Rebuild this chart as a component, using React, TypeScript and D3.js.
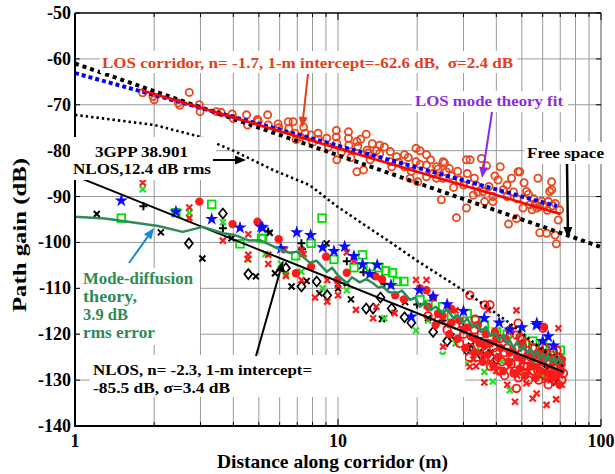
import React from "react";
import * as d3 from "d3";

const W = 615;
const H = 474;
const plot = { left: 75, right: 601, top: 13, bottom: 426 };

// [distance (m), path gain (dB)]
const losCircles: [number, number][] = [
  [1.81, -67.4], [1.98, -68.2], [2.0, -68.9], [2.47, -69.6], [2.5, -70.1], [2.72, -67.3], [2.97, -70.0], [2.99, -71.5],
  [3.45, -71.5], [3.6, -71.7], [3.96, -72.0], [4.0, -73.0], [4.49, -72.2], [4.53, -74.4], [4.94, -73.2], [4.97, -73.6],
  [5.4, -72.2], [5.43, -74.4], [5.92, -74.2], [5.95, -75.0], [6.47, -73.7], [6.5, -75.2], [6.75, -73.7], [6.86, -76.2],
  [6.93, -77.6], [7.2, -77.0], [7.4, -74.9], [7.5, -76.2], [7.9, -76.6], [8.0, -78.2], [8.4, -76.2], [8.4, -77.5],
  [9.05, -77.3], [9.2, -79.2], [9.86, -75.6], [9.85, -77.0], [9.9, -78.4], [9.9, -82.0], [10.3, -80.3], [10.96, -75.9],
  [10.96, -77.3], [11.0, -78.8], [11.2, -81.5], [11.8, -78.0], [11.9, -79.1], [11.8, -84.6], [12.2, -77.5], [12.5, -84.2],
  [12.8, -76.4], [12.9, -79.9], [13.0, -80.5], [13.25, -82.0], [13.5, -78.5], [14.0, -80.0], [14.4, -78.8], [14.4, -80.6],
  [15.0, -79.2], [15.8, -80.2], [15.8, -82.4], [16.0, -83.5], [16.7, -81.3], [17.0, -82.5], [17.9, -80.9], [17.9, -83.5],
  [18.5, -81.5], [18.8, -86.0], [19.0, -84.5], [19.8, -79.5], [19.8, -82.4], [20.1, -86.8], [20.5, -80.0], [20.5, -83.0],
  [21.7, -80.9], [21.7, -83.1], [21.7, -85.7], [22.5, -82.0], [23.0, -85.0], [23.7, -83.5], [23.7, -86.0], [24.0, -84.0],
  [24.7, -90.7], [25.1, -82.4], [25.1, -86.0], [25.4, -82.7], [25.8, -84.6], [26.5, -83.9], [27.0, -85.5], [27.5, -88.0],
  [28.2, -94.6], [28.5, -84.5], [29.0, -86.4], [30.0, -87.5], [30.8, -82.0], [30.8, -92.5], [31.0, -85.0], [31.8, -82.0],
  [32.7, -89.7], [33.0, -86.0], [33.5, -87.5], [34.0, -89.0], [35.1, -81.7], [35.6, -88.9], [36.1, -91.1], [36.7, -83.3],
  [37.5, -87.8], [38.8, -90.0], [38.8, -91.1], [39.5, -85.5], [40.6, -86.4], [41.4, -83.5], [42.5, -88.5], [43.9, -87.5],
  [44.0, -90.0], [44.5, -96.0], [45.7, -86.0], [46.5, -89.0], [47.7, -94.8], [48.0, -90.5], [48.4, -84.6], [49.1, -84.6],
  [50.5, -92.5], [51.0, -87.0], [52.1, -88.9], [53.0, -89.5], [53.6, -91.8], [54.7, -92.9], [55.5, -90.5], [56.2, -91.5],
  [57.0, -92.5], [57.6, -86.0], [58.5, -92.2], [58.5, -97.9], [59.5, -91.0], [61.0, -92.0], [62.1, -98.0], [62.5, -93.0],
  [63.0, -91.1], [63.8, -88.9], [64.9, -86.8], [64.9, -88.5], [65.5, -92.0], [66.9, -98.4], [67.0, -91.5], [67.6, -100.3],
  [68.8, -95.1], [69.6, -92.9],
];

const blueStars: [number, number][] = [
  [1.5, -90.9], [2.42, -93.3], [3.31, -94.9], [4.24, -96.8], [5.1, -96.6], [5.17, -96.8], [6.07, -101.3], [6.97, -97.8],
  [7.87, -98.4], [8.74, -101.1], [9.65, -101.9], [10.6, -100.9], [11.5, -103.0], [12.4, -104.8], [13.2, -106.9],
  [14.1, -104.9], [15.9, -109.3], [19.0, -116.2], [20.4, -110.4], [23.0, -111.8], [26.0, -113.5], [30.0, -115.0],
  [36.0, -116.5], [41.0, -117.5], [45.0, -119.0], [50.0, -118.5], [56.9, -118.0], [57.0, -117.6], [60.0, -121.5],
  [63.0, -120.5], [66.0, -122.5],
];

const greenSquares: [number, number][] = [
  [1.5, -94.7], [2.42, -93.5], [3.31, -91.7], [4.24, -100.3], [5.12, -99.1], [5.17, -99.2], [6.9, -102.9], [7.9, -100.2],
  [8.7, -94.7], [9.65, -103.7], [11.5, -105.5], [12.4, -102.7], [13.3, -105.3], [14.3, -105.5], [15.2, -106.2],
  [16.1, -106.6], [16.8, -108.5], [17.8, -108.5], [20.5, -112.5], [22.0, -113.5], [25.0, -114.0], [27.0, -116.0],
  [31.0, -115.5], [33.5, -117.0], [36.0, -118.0], [40.0, -119.5], [44.0, -120.0], [50.0, -121.0], [55.0, -121.5],
  [60.0, -122.5], [65.0, -123.0], [70.0, -123.5],
];

const blackDiamonds: [number, number][] = [
  [2.71, -100.2], [3.65, -93.7], [4.56, -106.9], [6.34, -105.6], [7.26, -109.6], [8.3, -108.5], [9.1, -111.5],
  [12.8, -114.4], [13.6, -114.4], [14.5, -112.0], [16.0, -114.4], [17.9, -116.3], [19.0, -117.5], [23.0, -119.5],
  [26.0, -121.5], [30.8, -123.4], [35.0, -124.5], [40.0, -125.5], [66.0, -130.0],
];

const redDots: [number, number][] = [
  [2.97, -91.1], [3.97, -96.0], [4.94, -95.5], [5.95, -99.3], [6.92, -106.7], [7.9, -105.3], [9.01, -103.1],
  [9.95, -108.2], [10.8, -106.6], [13.9, -107.4], [14.7, -108.0], [16.5, -111.5], [17.8, -112.4], [20.5, -110.0],
  [21.7, -110.4], [23.0, -112.0], [24.0, -115.5], [27.0, -117.5], [30.0, -119.0], [33.0, -121.0], [36.0, -122.5],
  [40.0, -121.0], [45.0, -124.0], [50.0, -125.5], [55.0, -127.0], [60.0, -126.0], [60.7, -118.4], [65.0, -128.5],
  [22.0, -114.0], [23.5, -118.0], [25.0, -116.0], [26.5, -120.0], [27.0, -114.5], [28.5, -121.0], [29.0, -117.0],
  [30.5, -123.0], [31.0, -118.5], [32.0, -120.5], [33.0, -124.0], [34.0, -118.0], [34.5, -122.0], [35.5, -126.0],
  [36.5, -120.0], [37.0, -124.5], [38.0, -122.0], [39.0, -127.0], [39.5, -119.5], [40.5, -125.0], [41.5, -123.0],
  [42.5, -128.0], [43.5, -121.0], [44.5, -126.0], [46.0, -123.5], [46.5, -128.5], [48.0, -125.0], [49.0, -127.5],
  [50.5, -122.5], [51.5, -129.0], [52.5, -124.5], [54.0, -127.0], [55.5, -125.0], [56.5, -129.5], [57.5, -124.0],
  [59.0, -128.0], [61.0, -124.5], [62.5, -128.5], [64.0, -125.0], [66.0, -129.5], [67.0, -126.0], [68.5, -128.5],
  [70.0, -127.0], [71.0, -125.5], [69.5, -131.0],
];

const redCrosses: [number, number][] = [
  [1.81, -87.0], [2.72, -92.4], [2.72, -94.7], [3.65, -99.6], [4.56, -98.2], [4.56, -102.7], [4.53, -103.6],
  [5.43, -102.7], [5.43, -104.7], [6.28, -101.6], [6.34, -107.3], [7.26, -101.6], [7.26, -108.2], [7.4, -102.5],
  [8.18, -112.0], [9.1, -112.9], [9.1, -108.2], [10.0, -111.5], [10.0, -109.3], [10.8, -102.2], [11.5, -104.0],
  [11.7, -114.7], [13.6, -116.5], [14.0, -114.0], [16.4, -115.4], [19.8, -108.2], [21.7, -108.2], [25.1, -122.7],
  [25.8, -118.0], [26.2, -114.0], [28.0, -114.8], [31.7, -127.1], [32.7, -125.5], [33.5, -127.0], [35.0, -124.0],
  [36.0, -130.5], [37.2, -114.7], [38.0, -126.0], [40.0, -128.0], [42.0, -123.0], [44.0, -131.0], [45.0, -127.0],
  [47.1, -134.7], [47.7, -114.8], [48.0, -129.0], [50.0, -126.0], [52.0, -130.7], [53.0, -128.0], [55.0, -134.0],
  [56.9, -132.9], [58.0, -127.0], [62.0, -130.0], [62.1, -135.4], [65.0, -126.0], [67.5, -134.2], [68.9, -118.7],
  [70.0, -129.0], [71.0, -131.0],
];

const greenCrosses: [number, number][] = [
  [1.81, -88.4], [2.72, -93.5], [3.65, -95.6], [4.56, -103.7], [5.3, -102.5], [6.07, -104.7], [6.34, -107.0],
  [7.26, -106.4], [8.74, -110.0], [10.8, -110.4], [15.0, -116.5], [19.8, -119.2], [22.0, -117.0], [25.0, -124.5],
  [28.0, -122.0], [31.0, -126.5], [33.5, -123.5], [36.0, -128.2], [38.8, -130.3], [42.0, -126.0], [45.0, -132.2],
  [50.0, -128.0], [55.0, -126.5], [60.0, -129.0], [66.0, -127.0], [70.0, -125.0],
];

const blackCrosses: [number, number][] = [
  [1.21, -93.8], [2.12, -97.8], [3.05, -103.5], [3.94, -99.1], [4.87, -107.4], [5.5, -97.9], [5.76, -106.7],
  [6.66, -109.6], [7.6, -108.4], [8.5, -111.1], [9.05, -100.2], [10.0, -110.0], [10.8, -108.9], [11.2, -112.4],
  [14.7, -116.7], [18.0, -113.0], [22.0, -116.5], [27.0, -120.5], [32.0, -122.5], [38.0, -124.0], [45.0, -126.0],
  [55.0, -125.0], [62.0, -127.5], [70.0, -126.5],
];

const blackPlus: [number, number][] = [
  [1.82, -92.1], [3.65, -96.9], [5.43, -97.6], [7.26, -100.2], [7.3, -101.5], [10.8, -104.1], [12.5, -106.5],
  [15.0, -109.0], [20.0, -113.5], [25.0, -117.0], [30.0, -118.5], [40.0, -121.5], [50.0, -122.0], [60.0, -123.5],
  [68.0, -124.5],
];

const nlosCircles: [number, number][] = [
  [22.0, -116.0], [24.0, -117.0], [26.0, -119.0], [28.0, -118.0], [30.0, -120.0], [31.7, -111.5], [32.0, -123.0],
  [33.2, -116.7], [34.0, -125.0], [35.0, -120.0], [36.1, -113.6], [37.0, -122.0], [37.8, -113.6], [38.0, -127.0],
  [40.0, -124.0], [41.0, -121.0], [42.0, -126.0], [43.0, -129.0], [44.0, -123.0], [45.0, -119.1], [46.0, -125.0],
  [47.0, -128.0], [47.7, -120.2], [47.7, -131.8], [48.0, -123.0], [48.4, -117.6], [49.2, -120.6], [50.0, -124.0],
  [51.0, -127.0], [52.0, -122.0], [53.0, -130.0], [54.0, -125.0], [55.0, -128.0], [56.0, -123.0], [57.0, -126.0],
  [58.0, -130.0], [59.0, -124.0], [60.0, -127.0], [60.2, -118.7], [61.0, -129.0], [62.0, -125.0], [63.0, -131.0],
  [64.0, -126.0], [65.0, -128.0], [66.0, -124.0], [67.0, -130.0], [68.0, -127.0], [69.0, -125.0], [70.0, -128.0],
  [71.0, -130.0], [29.0, -122.0], [31.5, -125.0], [33.0, -119.0], [36.0, -125.5], [39.0, -123.0], [41.0, -128.0],
  [43.0, -124.0], [45.5, -126.5], [48.5, -129.5], [50.0, -121.0], [52.5, -127.0], [55.0, -123.0], [57.5, -128.0],
  [59.5, -126.0], [61.5, -123.0], [64.5, -129.0], [66.5, -127.0], [68.0, -123.5], [70.5, -126.5], [72.0, -128.5],
];

const freeSpace: [number, number][] = [[1, -61], [100, -101]];
const losModeFit: [number, number][] = [[1, -63.1], [68, -92.1]];
const losFit: [number, number][] = [[1.8, -66.9], [70, -93.8]];
const nlosFit: [number, number][] = [[1, -85.5], [72, -128.2]];
const gppNlos: [number, number][] = [
  [1, -72.2], [2, -74.4], [3, -77], [4, -80], [5.66, -84.2], [7.8, -87.5], [10, -92.3], [15.4, -99.5],
  [20, -104], [31, -111], [45, -117.6], [72, -127.1],
];
const modeDiffusion: [number, number][] = [
  [1, -94.4], [1.3, -94.8], [1.59, -95.5], [2.07, -96.4], [2.57, -97.7], [3.06, -96.6], [3.66, -98.0], [4.06, -98.4],
  [4.6, -99.6], [5.05, -99.5], [5.5, -100.5], [6.1, -101.7], [6.6, -102.3], [7.0, -102.0], [7.8, -104.4], [8.3, -104.0],
  [9.07, -106.4], [9.5, -105.5], [10.0, -107.2], [10.8, -108.9], [11.3, -107.6], [12.1, -108.7], [12.8, -108.0],
  [13.6, -108.9], [14.2, -109.8], [14.8, -109.6], [15.6, -110.8], [16.7, -111.1], [17.5, -110.5], [18.8, -112.5],
  [19.6, -112.0], [20.5, -114.0], [21.5, -113.0], [22.5, -114.8], [23.5, -114.0], [25.0, -115.4], [26.0, -114.6],
  [27.5, -116.5], [28.5, -115.8], [30.0, -117.5], [31.0, -116.6], [32.5, -118.5], [33.7, -117.8], [35.0, -119.5],
  [36.5, -118.4], [38.0, -120.4], [39.5, -119.6], [41.0, -121.3], [42.5, -120.2], [44.0, -122.2], [45.0, -121.3],
  [46.5, -123.0], [48.0, -121.6], [49.5, -123.6], [51.0, -122.4], [52.5, -124.1], [54.0, -123.0], [55.5, -124.9],
  [57.0, -123.5], [58.5, -125.3], [60.0, -124.2], [61.5, -125.9], [63.0, -124.5], [64.5, -126.2], [66.0, -125.0],
  [67.5, -126.4], [69.0, -125.2], [70.5, -126.0], [71.6, -125.6],
];

const yTicks = [-140, -130, -120, -110, -100, -90, -80, -70, -60, -50];
const xMajor = [1, 10, 100];
const xMinor = [2, 3, 4, 5, 6, 7, 8, 9, 20, 30, 40, 50, 60, 70, 80, 90];

const FONT = "'Liberation Serif', 'Times New Roman', serif";

function Arrow({ x1, y1, x2, y2, color, w = 2 }: { x1: number; y1: number; x2: number; y2: number; color: string; w?: number }) {
  const a = Math.atan2(y2 - y1, x2 - x1);
  const L = 11, hw = 4.5;
  const bx = x2 - L * Math.cos(a), by = y2 - L * Math.sin(a);
  const p = [
    [x2, y2],
    [bx + hw * Math.sin(a), by - hw * Math.cos(a)],
    [bx - hw * Math.sin(a), by + hw * Math.cos(a)],
  ];
  return (
    <g>
      <line x1={x1} y1={y1} x2={bx} y2={by} stroke={color} strokeWidth={w} />
      <polygon points={p.map(q => q.join(",")).join(" ")} fill={color} />
    </g>
  );
}

// text stretched to the measured width of the original label
function Label({ x, y, len, children, ...rest }: any) {
  return (
    <text x={x} y={y} textLength={len} lengthAdjust="spacingAndGlyphs" {...rest}>{children}</text>
  );
}

export default function App() {
  const x = d3.scaleLog().domain([1, 100]).range([plot.left, plot.right]);
  const y = d3.scaleLinear().domain([-140, -50]).range([plot.bottom, plot.top]);
  const line = d3.line<[number, number]>().x(d => x(d[0])).y(d => y(d[1]));
  const star = d3.symbol(d3.symbolStar, 55)()!;

  const cross = (s: number) => `M${-s},${-s}L${s},${s}M${-s},${s}L${s},${-s}`;
  const plus = (s: number) => `M${-s},0L${s},0M0,${-s}L0,${s}`;

  return (
    <svg width={W} height={H} style={{ position: "absolute", left: 0, top: 0, background: "#fff" }} fontFamily={FONT}>
      <rect width={W} height={H} fill="#fff" />
      {/* grid */}
      <g stroke="#9a9a9a" strokeWidth={1}>
        {yTicks.slice(1, -1).map(t => (
          <line key={t} x1={plot.left} x2={plot.right} y1={y(t)} y2={y(t)} />
        ))}
        {[...xMinor, 10].map(t => (
          <line key={t} x1={x(t)} x2={x(t)} y1={plot.top} y2={plot.bottom} />
        ))}
      </g>

      {/* markers */}
      <g fill="none" stroke="#e8481c" strokeWidth={1.8}>
        {losCircles.map((d, i) => <circle key={i} cx={x(d[0])} cy={y(d[1])} r={3.6} />)}
      </g>
      <g fill="none" stroke="#00e000" strokeWidth={1.8}>
        {greenSquares.map((d, i) => <rect key={i} x={x(d[0]) - 3.8} y={y(d[1]) - 3.8} width={7.6} height={7.6} />)}
      </g>
      <g fill="none" stroke="#000" strokeWidth={1.7}>
        {blackDiamonds.map((d, i) => (
          <path key={i} transform={`translate(${x(d[0])},${y(d[1])})`} d="M0,-5L4,0L0,5L-4,0Z" />
        ))}
      </g>
      <g stroke="#000" strokeWidth={2}>
        {blackCrosses.map((d, i) => <path key={i} transform={`translate(${x(d[0])},${y(d[1])})`} d={cross(3)} />)}
        {blackPlus.map((d, i) => <path key={i} transform={`translate(${x(d[0])},${y(d[1])})`} d={plus(4)} />)}
      </g>
      <g stroke="#22e022" strokeWidth={2.2}>
        {greenCrosses.map((d, i) => <path key={i} transform={`translate(${x(d[0])},${y(d[1])})`} d={cross(3)} />)}
      </g>
      <g fill="none" stroke="#ff1010" strokeWidth={1.8}>
        {nlosCircles.map((d, i) => <circle key={i} cx={x(d[0])} cy={y(d[1])} r={3.8} />)}
      </g>
      <g stroke="#ff1a1a" strokeWidth={2.2}>
        {redCrosses.map((d, i) => <path key={i} transform={`translate(${x(d[0])},${y(d[1])})`} d={cross(3)} />)}
      </g>
      <g fill="#ff1a1a">
        {redDots.map((d, i) => <circle key={i} cx={x(d[0])} cy={y(d[1])} r={4.2} />)}
      </g>
      <g fill="#0a0aff">
        {blueStars.map((d, i) => <path key={i} transform={`translate(${x(d[0])},${y(d[1])})`} d={star} />)}
      </g>

      {/* curves */}
      <g fill="none">
        <path d={line(gppNlos)!} stroke="#000" strokeWidth={2.6} strokeDasharray="2.4 3" />
        <path d={line(freeSpace)!} stroke="#000" strokeWidth={4} strokeDasharray="4 4" />
        <path d={line(losModeFit)!} stroke="#0000ff" strokeWidth={4} strokeDasharray="4 3" />
        <path d={line(losFit)!} stroke="#ff0000" strokeWidth={2.5} />
        <path d={line(nlosFit)!} stroke="#000" strokeWidth={2} />
        <path d={line(modeDiffusion)!} stroke="#2e8b57" strokeWidth={2.5} strokeLinejoin="round" />
      </g>

      {/* frame + ticks */}
      <g stroke="#000">
        <line x1={plot.left} x2={plot.right} y1={plot.top} y2={plot.top} strokeWidth={1.5} />
        <line x1={plot.right} x2={plot.right} y1={plot.top} y2={plot.bottom} strokeWidth={1} stroke="#555" />
        <line x1={plot.left} x2={plot.left} y1={plot.top} y2={plot.bottom + 1} strokeWidth={2} />
        <line x1={plot.left - 1} x2={plot.right} y1={plot.bottom} y2={plot.bottom} strokeWidth={2} />
        {yTicks.map(t => (
          <g key={t}>
            <line x1={plot.left} x2={plot.left + 5} y1={y(t)} y2={y(t)} />
            <line x1={plot.right} x2={plot.right - 5} y1={y(t)} y2={y(t)} />
          </g>
        ))}
        {[...xMinor, ...xMajor].map(t => {
          const len = xMajor.includes(t) ? 7 : 4;
          return (
            <g key={t}>
              <line x1={x(t)} x2={x(t)} y1={plot.top} y2={plot.top + len} />
              <line x1={x(t)} x2={x(t)} y1={plot.bottom} y2={plot.bottom - len} />
            </g>
          );
        })}
      </g>

      {/* tick labels */}
      <g fontWeight="bold" fontSize={18} fill="#000">
        {yTicks.map(t => (
          <text key={t} x={plot.left - 4} y={y(t) + 6} textAnchor="end">{t}</text>
        ))}
        {xMajor.map(t => (
          <text key={t} x={x(t)} y={447} textAnchor="middle">{t}</text>
        ))}
        <Label x={217} y={468} len={231} fontSize={19}>Distance along corridor (m)</Label>
        <g transform="translate(26,312) rotate(-90)">
          <Label x={0} y={0} len={154} fontSize={19}>Path gain (dB)</Label>
        </g>
      </g>

      {/* annotations */}
      <g fill="#fff">
        <rect x={100} y={51} width={417} height={22} />
        <rect x={412} y={91} width={156} height={21} />
        <rect x={524} y={142} width={80} height={22} />
        <rect x={70} y={137} width={146} height={43} />
        <rect x={80} y={268} width={120} height={77} />
        <rect x={90} y={355} width={375} height={42} />
      </g>
      <g fontWeight="bold" fontSize={15.5}>
        <Label x={102} y={68} len={411} fill="#e0401a">LOS corridor, n= -1.7, 1-m intercept=-62.6 dB,{"\u00a0\u00a0"}σ=2.4 dB</Label>
        <Label x={415} y={106} len={148} fill="#8a2be2">LOS mode theory fit</Label>
        <Label x={527} y={158} len={77} fill="#000">Free space</Label>
        <Label x={95} y={157} len={93} fill="#000">3GPP 38.901</Label>
        <Label x={73} y={174} len={138} fill="#000">NLOS,12.4 dB rms</Label>
        <g fill="#2e8b57" fontSize={16.5}>
          <Label x={83} y={284} len={110}>Mode-diffusion</Label>
          <Label x={83} y={302} len={54}>theory,</Label>
          <Label x={83} y={320} len={45}>3.9 dB</Label>
          <Label x={83} y={338} len={72}>rms error</Label>
        </g>
        <Label x={93} y={375} len={219} fill="#000">NLOS, n= -2.3, 1-m intercept=</Label>
        <Label x={93} y={393} len={137} fill="#000">-85.5 dB, σ=3.4 dB</Label>
      </g>
      <Arrow x1={308} y1={74} x2={302} y2={128} color="#e0401a" />
      <Arrow x1={492} y1={112} x2={482} y2={178} color="#8a2be2" />
      <Arrow x1={567} y1={164} x2={568} y2={238} color="#000" w={2.5} />
      <Arrow x1={213} y1={160} x2={246} y2={160} color="#000" />
      <Arrow x1={129} y1={263} x2={154} y2={228} color="#1a8ad0" />
      <Arrow x1={256} y1={356} x2={283} y2={261} color="#000" />
    </svg>
  );
}
